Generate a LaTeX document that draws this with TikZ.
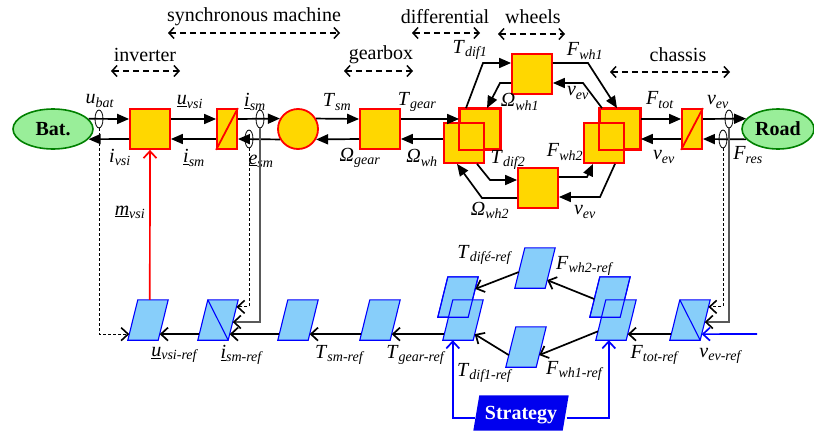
\documentclass[tikz,border=0pt]{standalone}
\usepackage{fontspec}
\setmainfont{Liberation Serif}
\usetikzlibrary{arrows.meta,calc,shapes.geometric}

\definecolor{blockyellow}{HTML}{FFD700}
\definecolor{srcgreen}{HTML}{99EE99}
\definecolor{srcedge}{HTML}{008000}
\definecolor{refblue}{HTML}{87CEFA}
\definecolor{stratblue}{HTML}{0000EE}

\newcommand{\vr}[2]{\textit{#1}\textsubscript{\textit{#2}}}
\newcommand{\refblock}[3][]{%
  \node[refnode] (#2) at (#3) {};
  \coordinate (#2-bl) at (#2.south west);
  \coordinate (#2-br) at ([xshift=-10pt]#2.south east);
  \coordinate (#2-tr) at (#2.north east);
  \coordinate (#2-tl) at ([xshift=10pt]#2.north west);
  \draw[refbox,#1] (#2-bl) -- (#2-br) -- (#2-tr) -- (#2-tl) -- cycle;}

\tikzset{
  source/.style={ellipse, draw=srcedge, fill=srcgreen, line width=1.6pt, inner sep=0, font=\fontsize{20}{24}\selectfont\bfseries},
  block/.style={draw=red, fill=blockyellow, line width=1.8pt, minimum size=40pt, inner sep=0},
  conv/.style={draw=red, fill=blockyellow, line width=1.8pt, minimum width=20pt, minimum height=40pt, inner sep=0},
  machine/.style={circle, draw=red, fill=blockyellow, line width=1.8pt, minimum size=40pt, inner sep=0},
  redline/.style={draw=red, line width=1.8pt},
  meas/.style={ellipse, draw, line width=0.8pt, minimum width=8pt, minimum height=18pt, inner sep=0},
  refnode/.style={inner sep=0, minimum width=40pt, minimum height=40pt},
  refbox/.style={draw=blue, fill=refblue, line width=1.1pt},
  refedge/.style={draw=blue, line width=1.1pt},
  lbl/.style={inner sep=1pt},
  pw/.style={line width=1.7pt, -{Triangle[length=12pt,width=10pt]}},
  rf/.style={line width=1.7pt, -{Straight Barb[length=7pt,width=13pt]}},
  ctl/.style={draw=red, line width=1.7pt, -{Straight Barb[length=7pt,width=13pt]}},
  st/.style={draw=blue, line width=1.7pt, -{Straight Barb[length=7pt,width=13pt]}},
  senssolid/.style={draw=black!65, line width=1.4pt, -{Straight Barb[length=7pt,width=13pt,color=black,line width=1.6pt]}},
  sensdash/.style={draw=black, line width=0.8pt, dash pattern=on 3pt off 2pt, -{Straight Barb[length=7pt,width=13pt,line width=1.6pt]}},
  span/.style={line width=1.5pt, dash pattern=on 6pt off 4pt, {Straight Barb[length=5pt,width=11pt]}-{Straight Barb[length=5pt,width=11pt]}}
}

\begin{document}
\begin{tikzpicture}[x=1pt,y=-1pt,font=\fontsize{20}{24}\selectfont]
\useasboundingbox (0,0) rectangle (814,434);

\node[lbl] (lsync) at (254,17) {synchronous machine};
\node[lbl] (ldiff) at (445,17) {differential};
\node[lbl] (lwheel) at (533,17) {wheels};
\node[lbl] (linv) at (145,55) {inverter};
\node[lbl] (lgear) at (381,55) {gearbox};
\node[lbl] (lchas) at (678,55) {chassis};
\draw[span] ([shift={(-86,16)}]lsync.center) -- ([shift={(86,16)}]lsync.center);
\draw[span] ([shift={(-33,16)}]ldiff.center) -- ([shift={(35,16)}]ldiff.center);
\draw[span] ([shift={(-35,17)}]lwheel.center) -- ([shift={(32,17)}]lwheel.center);
\draw[span] ([shift={(-34,16)}]linv.center) -- ([shift={(35,16)}]linv.center);
\draw[span] ([shift={(-37,16)}]lgear.center) -- ([shift={(32,16)}]lgear.center);
\draw[span] ([shift={(-68,17)}]lchas.center) -- ([shift={(52,17)}]lchas.center);

\node[source, minimum width=80pt, minimum height=40pt] (bat) at (53,129) {Bat.};
\node[block] (inv) at (150,129) {};
\node[conv] (cnv) at (227,129) {};
\draw[redline] (cnv.south west) -- (cnv.north east);
\node[machine] (sm) at (298,129) {};
\node[block] (gear) at (380,129) {};
\node[block] (difA) at (480,129) {};
\node[block] (difB) at (464,143) {};
\draw[redline] (difA.south west) rectangle (difA.north east);
\node[block] (wh1) at (532,74) {};
\node[block] (wh2) at (538,188) {};
\node[block] (chA) at (620,129) {};
\node[block] (chB) at (604,143) {};
\draw[redline] (chA.south west) rectangle (chA.north east);
\node[conv] (chs) at (692,129) {};
\draw[redline] (chs.south west) -- (chs.north east);
\node[source, minimum width=72pt, minimum height=40pt] (road) at (778,129) {Road};

\draw[pw] (bat.16) -- ([yshift=10pt]inv.west);
\draw[pw] ([yshift=-10pt]inv.west) -- (bat.-16);
\draw[pw] ([yshift=10pt]inv.east) -- ([yshift=10pt]cnv.west);
\draw[pw] ([yshift=-10pt]cnv.west) -- ([yshift=-10pt]inv.east);
\draw[pw] ([yshift=10pt]cnv.east) -- (sm.150);
\draw[pw] (sm.210) -- ([yshift=-10pt]cnv.east);
\draw[pw] (sm.30) -- ([yshift=10pt]gear.west);
\draw[pw] ([yshift=-10pt]gear.west) -- (sm.-30);
\draw[pw] ([yshift=10pt]gear.east) -- ([yshift=10pt]difA.west);
\draw[pw] ([yshift=4pt]difB.west) -- ([yshift=-10pt]gear.east);
\draw[pw] ([xshift=-14pt]difA.north) -- (483,63) -- ([yshift=11pt]wh1.west);
\draw[pw] ([yshift=-9pt]wh1.west) -- (500,83) -- ([xshift=7pt]difA.north);
\draw[pw] ([yshift=11pt]wh1.east) -- (588,63) -- ([xshift=-3pt]chA.north);
\draw[pw] ([xshift=-18pt]chA.north) -- (583,83) -- ([yshift=-9pt]wh1.east);
\draw[pw] ([xshift=13pt]difB.south) -- (490,180) -- ([yshift=8pt]wh2.west);
\draw[pw] ([yshift=-10pt]wh2.west) -- (482,198) -- ([xshift=-7pt]difB.south);
\draw[pw] ([yshift=11pt]wh2.east) -- (587,177) -- ([xshift=-11pt]chB.south);
\draw[pw] ([xshift=11pt]chB.south) -- (600,197) -- ([yshift=-9pt]wh2.east);
\draw[pw] ([yshift=10pt]chA.east) -- ([yshift=10pt]chs.west);
\draw[pw] ([yshift=-10pt]chs.west) -- ([yshift=-10pt]chA.east);
\draw[pw] ([yshift=10pt]chs.east) -- (road.162);
\draw[pw] (road.198) -- ([yshift=-10pt]chs.east);

\node[meas] (mbat) at (99,119) {};
\node[meas] (mism) at (260,119) {};
\node[meas] (mesm) at (249,139) {};
\node[meas] (mvev) at (729,119) {};
\node[meas] (mfres) at (723,139) {};

\node[lbl] (lubat) at (100,101) {\vr{u}{bat}};
\node[lbl] (livsi) at (120,157) {\vr{i}{vsi}};
\node[lbl] (luvsi) at (190,102) {\vr{\underline{u}}{vsi}};
\node[lbl] (lism) at (194,158) {\vr{\underline{i}}{sm}};
\node[lbl] (lism2) at (255,102) {\vr{\underline{i}}{sm}};
\node[lbl] (lesm) at (261,161) {\vr{\underline{e}}{sm}};
\node[lbl] (ltsm) at (337,102) {\vr{T}{sm}};
\node[lbl] (logear) at (360,158) {\vr{Ω}{gear}};
\node[lbl] (ltgear) at (417,102) {\vr{T}{gear}};
\node[lbl] (lowh) at (422,158) {\vr{Ω}{wh}};
\node[lbl] (ltdif1) at (470,50) {\vr{T}{dif1}};
\node[lbl] (lowh1) at (520,102) {\vr{Ω}{wh1}};
\node[lbl] (lfwh1) at (585,51) {\vr{F}{wh1}};
\node[lbl] (lvev1) at (578,93) {\vr{v}{ev}};
\node[lbl] (ltdif2) at (508,160) {\vr{T}{dif2}};
\node[lbl] (lfwh2) at (565,152) {\vr{F}{wh2}};
\node[lbl] (lowh2) at (490,210) {\vr{Ω}{wh2}};
\node[lbl] (lvev2) at (585,212) {\vr{v}{ev}};
\node[lbl] (lftot) at (660,100) {\vr{F}{tot}};
\node[lbl] (lvev3) at (664,157) {\vr{v}{ev}};
\node[lbl] (lvev4) at (718,102) {\vr{v}{ev}};
\node[lbl] (lfres) at (748,155) {\vr{F}{res}};

\refblock{rinv}{148,320}
\refblock{rcnv}{218,320}
\draw[refedge] (rcnv-tl) -- (rcnv-br);
\refblock{rsm}{298,320}
\refblock{rgear}{380,320}
\refblock{rdif2}{458,297}
\refblock{rdif1}{463,320}
\draw[refedge] (rdif2-bl) -- (rdif2-br) -- (rdif2-tr) -- (rdif2-tl) -- cycle;
\refblock{rwh2}{535,268}
\refblock{rwh1}{526,347}
\refblock{rch2}{610,297}
\refblock{rch1}{616,320}
\draw[refedge] (rch2-bl) -- (rch2-br) -- (rch2-tr) -- (rch2-tl) -- cycle;
\refblock{rvev}{690,320}
\draw[refedge] (rvev-tl) -- (rvev-br);

\draw[rf] ($(rcnv-bl)!0.15!(rcnv-tl)$) -- ($(rinv-br)!0.15!(rinv-tr)$);
\draw[rf] ($(rsm-bl)!0.15!(rsm-tl)$) -- ($(rcnv-br)!0.15!(rcnv-tr)$);
\draw[rf] ($(rgear-bl)!0.15!(rgear-tl)$) -- ($(rsm-br)!0.15!(rsm-tr)$);
\draw[rf] ($(rdif1-bl)!0.15!(rdif1-tl)$) -- ($(rgear-br)!0.15!(rgear-tr)$);
\draw[rf] ($(rch1-bl)!0.22!(rch1-tl)$) -- ($(rwh1-br)!0.3!(rwh1-tr)$);
\draw[rf] ($(rwh1-bl)!0.3!(rwh1-tl)$) -- ($(rdif1-br)!0.15!(rdif1-tr)$);
\draw[rf] ($(rch2-bl)!0.45!(rch2-tl)$) -- ($(rwh2-br)!0.2!(rwh2-tr)$);
\draw[rf] ($(rwh2-bl)!0.4!(rwh2-tl)$) -- ($(rdif2-br)!0.7!(rdif2-tr)$);
\draw[rf] ($(rvev-bl)!0.15!(rvev-tl)$) -- ($(rch1-br)!0.15!(rch1-tr)$);

\coordinate (vin) at (757,334);
\draw[st] (vin) -- ($(rvev-br)!0.15!(rvev-tr)$);

\draw[sensdash] (mbat.south) |- ($(rinv-bl)!0.15!(rinv-tl)$);
\draw[senssolid] (mism.south) |- ($(rcnv-br)!0.45!(rcnv-tr)$);
\draw[sensdash] (mesm.south) |- ($(rcnv-br)!0.825!(rcnv-tr)$);
\draw[senssolid] (mvev.south) |- ($(rvev-br)!0.45!(rvev-tr)$);
\draw[sensdash] (mfres.south) |- ($(rvev-br)!0.825!(rvev-tr)$);

\draw[ctl] ([xshift=12pt]rinv-tl) -- (inv.south);

\node[inner sep=0, minimum width=95pt, minimum height=35pt] (strat) at (521,413) {};
\fill[stratblue] (strat.south west) -- ([xshift=-6pt]strat.south east) -- (strat.north east) -- ([xshift=6pt]strat.north west) -- cycle;
\node[text=white, font=\fontsize{20}{24}\selectfont\bfseries] (lstrat) at ([yshift=-2pt]strat.center) {Strategy};
\draw[st] ([shift={(2,5)}]strat.west) -| ([xshift=10pt]rdif1-bl);
\draw[st] ([shift={(-2,5)}]strat.east) -| ([xshift=13pt]rch1-bl);

\node[lbl] (lmvsi) at (130,212) {\vr{\underline{m}}{vsi}};
\node[lbl] (luref) at (175,355) {\vr{\underline{u}}{vsi-ref}};
\node[lbl] (liref) at (242,355) {\vr{\underline{i}}{sm-ref}};
\node[lbl] (ltsmref) at (340,355) {\vr{T}{sm-ref}};
\node[lbl] (ltgearref) at (416,355) {\vr{T}{gear-ref}};
\node[lbl] (ltdif1ref) at (485,373) {\vr{T}{dif1-ref}};
\node[lbl] (lfwh1ref) at (575,371) {\vr{F}{wh1-ref}};
\node[lbl] (ltdif2ref) at (485,255) {\vr{T}{difé-ref}};
\node[lbl] (lfwh2ref) at (585,266) {\vr{F}{wh2-ref}};
\node[lbl] (lftotref) at (655,355) {\vr{F}{tot-ref}};
\node[lbl] (lvevref) at (721,356) {\vr{v}{ev-ref}};
\end{tikzpicture}
\end{document}
